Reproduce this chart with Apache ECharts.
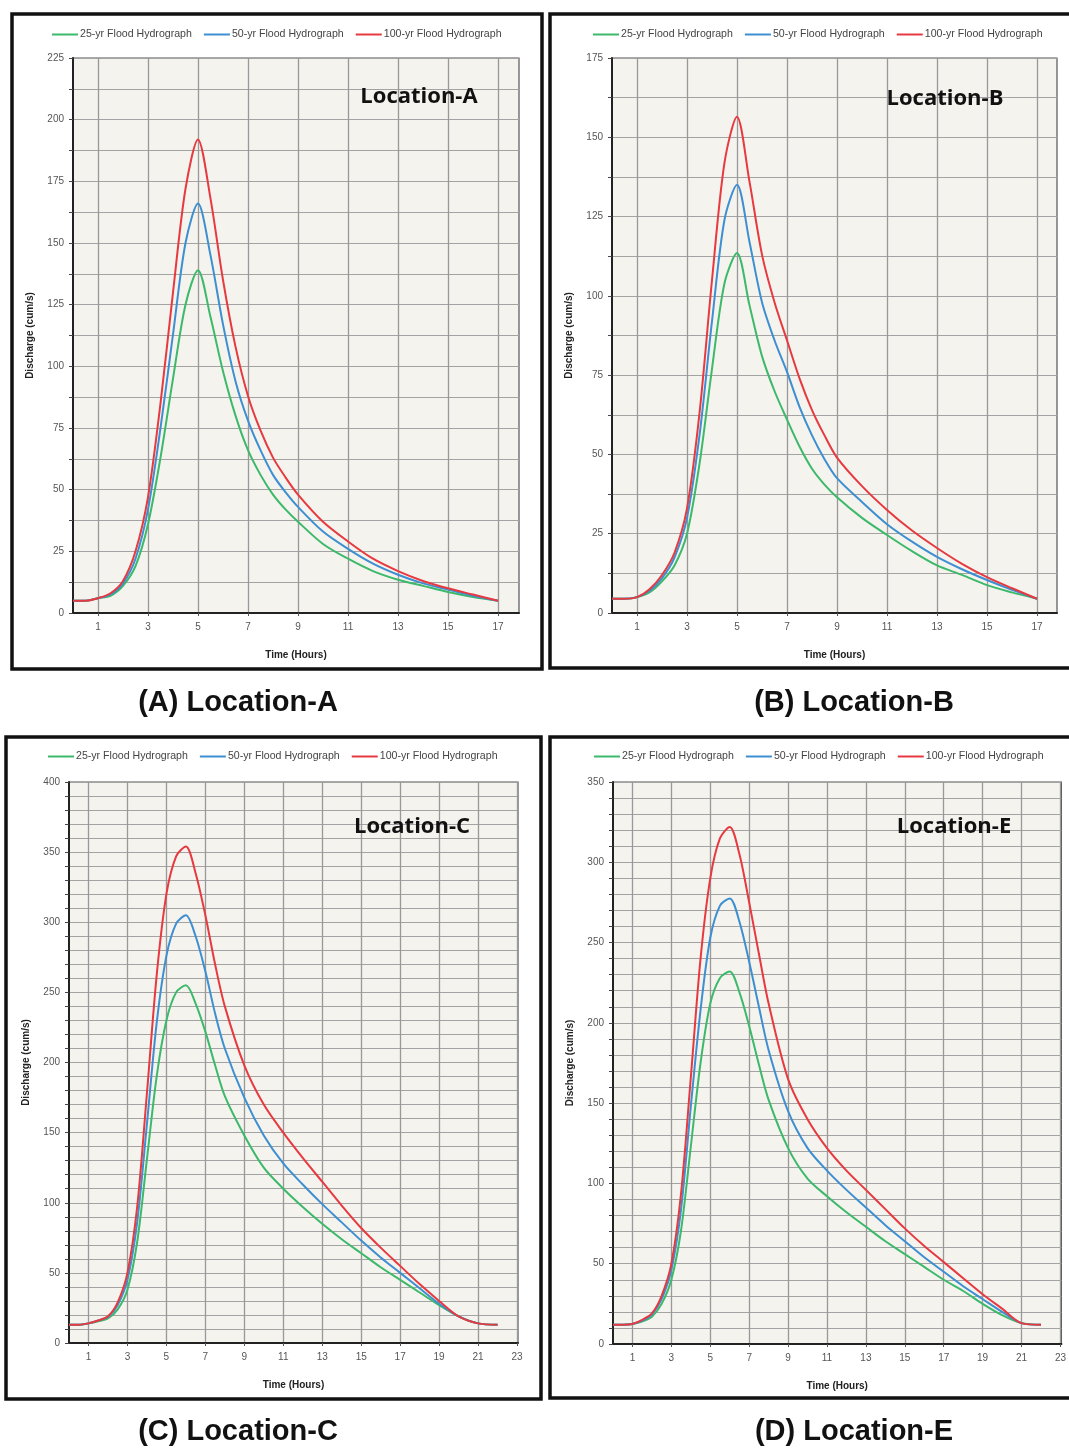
<!DOCTYPE html>
<html>
<head>
<meta charset="utf-8">
<script src="https://cdn.jsdelivr.net/npm/echarts@6.0.0/dist/echarts.min.js"></script>
<style>
    html, body { margin: 0; padding: 0; background: #fff; }
    #hydrographs { width: 1069px; height: 1448px; }
</style>
</head>
<body>
<div id="hydrographs"></div>
<script>
// series names (legend)
const seriesNames = ['25-yr Flood Hydrograph', '50-yr Flood Hydrograph', '100-yr Flood Hydrograph'];

// time steps (hours)
const hoursAB = [0, 0.5, 1, 1.5, 2, 2.5, 3, 3.5, 4, 4.5, 5, 5.5, 6, 6.5, 7, 7.5, 8, 8.5, 9, 10, 11, 12, 13, 14, 15, 16, 17];
const hoursCE = [0, 0.5, 1, 1.5, 2, 2.5, 3, 3.5, 4, 4.5, 5, 5.5, 6, 6.5, 7, 7.5, 8, 9, 10, 11, 12, 13, 14, 15, 16, 17, 18, 19, 20, 21, 22];

// Location-A discharge (cum/s)
const locA25 = [5, 5, 6, 7, 11, 19, 36, 63, 95, 125, 139, 120, 98, 80, 66, 56, 48, 42, 37, 28, 22, 17, 13.5, 11, 8.5, 6.5, 5];
const locA50 = [5, 5, 6, 7.5, 12, 22, 42, 75, 113, 150, 166, 145, 117, 94, 78, 66, 56, 49, 43, 33, 26, 20, 15.5, 12, 9.5, 7, 5];
const locA100 = [5, 5, 6, 8, 13, 25, 47, 85, 130, 172, 192, 168, 135, 108, 88, 74, 63, 55, 48, 37, 29, 22, 17, 13, 10, 7.5, 5];

// Location-B
const locB25 = [4.5, 4.5, 5, 6.5, 10, 15, 25, 47, 77, 104, 113.5, 97, 81, 70, 61, 52.5, 45.5, 40.5, 36.5, 30, 24.6, 19.5, 15, 12, 8.8, 6.5, 4.5];
const locB50 = [4.5, 4.5, 5, 7, 11, 17.5, 30, 56, 92, 124, 135, 117, 98, 86, 76, 65, 56, 48.5, 42.5, 35, 28, 22.5, 17.7, 13.8, 10.4, 7.3, 4.5];
const locB100 = [4.5, 4.5, 5, 7.5, 12, 19, 33, 63, 105, 142, 156.5, 136, 113, 98, 86, 74, 64, 56, 49, 40, 32.5, 26, 20.5, 15.5, 11.3, 7.8, 4.5];

// Location-C
const locC25 = [13, 13, 14, 15.5, 17.5, 24, 38, 72, 131, 190, 230, 250, 255, 242, 222, 198, 176, 148, 125, 110, 97, 85, 74, 64, 54, 45, 36, 27, 19, 14, 13];
const locC50 = [13, 13, 14, 16, 18.5, 27, 45, 86, 156, 228, 276, 299, 305, 290, 265, 235, 210, 175, 148, 128, 113, 99, 86, 73, 61, 50, 39, 28, 19, 14, 13];
const locC100 = [13, 13, 14, 16, 19, 29, 50, 97, 178, 262, 320, 347, 354, 335, 305, 270, 240, 198, 170, 150, 132, 115, 98, 82, 68, 55, 42, 30, 19, 14, 13];

// Location-E
const locE25 = [12, 12, 12.5, 14, 17, 25, 40, 71, 123, 175, 212, 228, 232, 219, 198, 174, 152, 122, 103, 92, 82, 73, 64, 56, 48, 40, 33, 25, 18, 13, 12];
const locE50 = [12, 12, 12.5, 14.5, 18.5, 28, 46, 84, 148, 208, 253, 273, 277.5, 263, 238, 210, 183, 145, 122, 108, 96, 85, 74, 64, 54, 45, 36, 28, 20, 13, 12];
const locE100 = [12, 12, 12.5, 15, 19, 30, 50, 94, 166, 240, 290, 315, 322, 305, 275, 243, 212, 165, 140, 122, 108, 96, 84, 72, 61, 51, 41, 31, 22, 13, 12];

// tick labels
const xTicksAB = [1, 3, 5, 7, 9, 11, 13, 15, 17];
const xTicksCE = [1, 3, 5, 7, 9, 11, 13, 15, 17, 19, 21, 23];
const yLabelsA = [0, 25, 50, 75, 100, 125, 150, 175, 200, 225];
const yLabelsB = [0, 25, 50, 75, 100, 125, 150, 175];
const yLabelsC = [0, 50, 100, 150, 200, 250, 300, 350, 400];
const yLabelsE = [0, 50, 100, 150, 200, 250, 300, 350];

const lineColors = ['#3cb96a', '#3d8fd1', '#e63a40'];
const baseFont = '"Liberation Sans", Arial, sans-serif';

const panels = [
    { hours: hoursAB, values: [locA25, locA50, locA100], xTicks: xTicksAB, yLabels: yLabelsA, yStep: 12.5, xMax: 17.84,
      grid: { left: 73, top: 58, width: 446, height: 555 }, legend: { left: 52, top: 29 },
      tag: 'Location-A', tagPos: [419, 97], caption: '(A) Location-A', capPos: [238, 703],
      frame: { x: 12, y: 14, width: 530, height: 655 } },
    { hours: hoursAB, values: [locB25, locB50, locB100], xTicks: xTicksAB, yLabels: yLabelsB, yStep: 12.5, xMax: 17.8,
      grid: { left: 612, top: 58, width: 445, height: 555 }, legend: { left: 593, top: 29 },
      tag: 'Location-B', tagPos: [945, 99], caption: '(B) Location-B', capPos: [854, 703],
      frame: { x: 550, y: 14, width: 525, height: 654 } },
    { hours: hoursCE, values: [locC25, locC50, locC100], xTicks: xTicksCE, yLabels: yLabelsC, yStep: 10, xMax: 23.05,
      grid: { left: 69, top: 782, width: 449, height: 561 }, legend: { left: 48, top: 751 },
      tag: 'Location-C', tagPos: [412, 827], caption: '(C) Location-C', capPos: [238, 1432],
      frame: { x: 6, y: 737, width: 535, height: 662 } },
    { hours: hoursCE, values: [locE25, locE50, locE100], xTicks: xTicksCE, yLabels: yLabelsE, yStep: 10, xMax: 23.05,
      grid: { left: 613, top: 782, width: 450, height: 562 }, legend: { left: 594, top: 751 },
      tag: 'Location-E', tagPos: [954, 827], caption: '(D) Location-E', capPos: [854, 1432],
      frame: { x: 550, y: 737, width: 525, height: 661 } }
];

const grids = [], xAxes = [], yAxes = [], legends = [], series = [], graphics = [];

panels.forEach((p, i) => {
    grids.push(Object.assign({
        show: true,
        backgroundColor: '#f5f3ee',
        borderColor: '#555',
        borderWidth: 1.2
    }, p.grid));

    xAxes.push({
        type: 'value',
        gridIndex: i,
        min: 0,
        max: p.xMax,
        name: 'Time (Hours)',
        nameLocation: 'middle',
        nameGap: 37,
        nameTextStyle: { fontFamily: baseFont, fontWeight: 'bold', fontSize: 10, color: '#222' },
        axisLine: { show: true, onZero: false, lineStyle: { color: '#222', width: 2 } },
        axisTick: { show: true, customValues: p.xTicks, length: 3, lineStyle: { color: '#555' } },
        axisLabel: { customValues: p.xTicks, fontFamily: baseFont, fontSize: 10, color: '#555', margin: 9 },
        splitLine: { show: true, lineStyle: { color: '#999', width: 1.3 } }
    });

    yAxes.push({
        type: 'value',
        gridIndex: i,
        min: 0,
        max: p.yLabels[p.yLabels.length - 1],
        interval: p.yStep,
        name: 'Discharge (cum/s)',
        nameLocation: 'middle',
        nameGap: 38,
        nameTextStyle: { fontFamily: baseFont, fontWeight: 'bold', fontSize: 10, color: '#222' },
        axisLine: { show: true, lineStyle: { color: '#222', width: 2 } },
        axisTick: { show: true, length: 4, lineStyle: { color: '#444' } },
        axisLabel: { customValues: p.yLabels, fontFamily: baseFont, fontSize: 10, color: '#555', margin: 9 },
        splitLine: { show: true, lineStyle: { color: '#a3a3a3', width: 1 } }
    });

    legends.push({
        left: p.legend.left,
        top: p.legend.top,
        padding: 0,
        data: seriesNames,
        icon: 'rect',
        itemWidth: 26,
        itemHeight: 2,
        itemGap: 12,
        selectedMode: false,
        textStyle: { fontFamily: baseFont, fontSize: 10.6, color: '#444', padding: [0, 0, 0, -3] }
    });

    seriesNames.forEach((name, k) => {
        series.push({
            name: name,
            type: 'line',
            xAxisIndex: i,
            yAxisIndex: i,
            data: p.hours.map((h, j) => [h, p.values[k][j]]),
            smooth: 0.3,
            showSymbol: false,
            color: lineColors[k],
            lineStyle: { width: 2, color: lineColors[k] },
            z: 3 + k
        });
    });

    // panel frame
    graphics.push({
        type: 'rect',
        shape: p.frame,
        style: { fill: 'none', stroke: '#111', lineWidth: 3.5 },
        z: 10
    });
    // location tag inside plot
    graphics.push({
        type: 'text',
        x: p.tagPos[0],
        y: p.tagPos[1],
        style: {
            text: p.tag,
            font: 'bold 22px "Open Sans", "Noto Sans", sans-serif',
            fill: '#111',
            textAlign: 'center',
            textVerticalAlign: 'middle'
        },
        z: 10
    });
    // caption below panel
    graphics.push({
        type: 'text',
        x: p.capPos[0],
        y: p.capPos[1],
        style: {
            text: p.caption,
            font: 'bold 29px "Liberation Sans", Arial, sans-serif',
            fill: '#111',
            textAlign: 'center',
            textVerticalAlign: 'middle'
        },
        z: 10
    });
});

const myChart = echarts.init(document.getElementById('hydrographs'));
myChart.setOption({
    animation: false,
    backgroundColor: '#fff',
    grid: grids,
    xAxis: xAxes,
    yAxis: yAxes,
    legend: legends,
    series: series,
    graphic: graphics
});
</script>
</body>
</html>
